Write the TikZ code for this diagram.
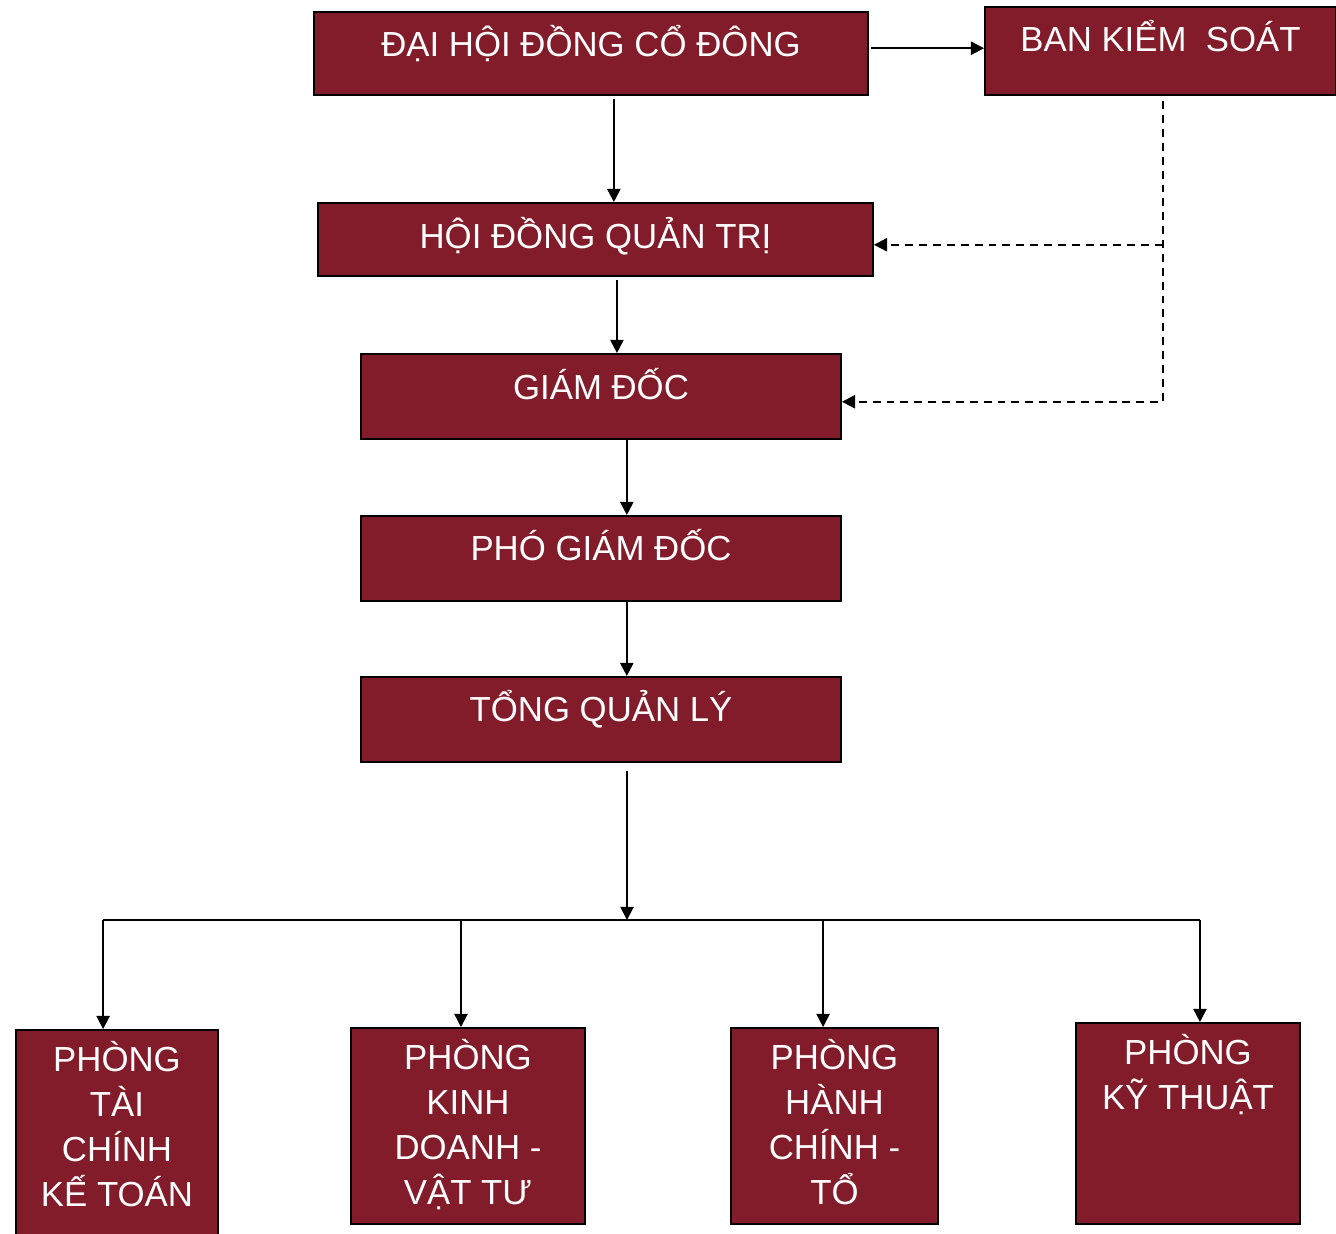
\documentclass[tikz,border=0pt]{standalone}
\usepackage{fontspec}
\setmainfont{Liberation Sans}
\usetikzlibrary{arrows.meta}
\definecolor{boxred}{HTML}{821C2A}

\begin{document}
\begin{tikzpicture}[x=0.02cm, y=0.02cm,
  unit/.style={draw=black, line width=1.1pt, fill=boxred, inner sep=0pt},
  ttl/.style={anchor=north, inner sep=0pt, text=white, align=center,
    font=\fontsize{19.8}{25.5}\selectfont},
  arr/.style={line width=1.1pt, -{Triangle[length=7.5pt,width=7.5pt]}},
  darr/.style={arr, dash pattern=on 4.5pt off 3.4pt}]

  \useasboundingbox (0,0) rectangle (1336,-1234);

  % Define nodes
  \node[unit, minimum width=11.08cm, minimum height=1.66cm,
    label={[ttl,yshift=-8pt]north:ĐẠI HỘI ĐỒNG CỔ ĐÔNG}] (dhcd) at (591,-53.5) {};
  \node[unit, minimum width=7.02cm, minimum height=1.76cm,
    label={[ttl,yshift=-8pt]north:BAN KIỂM\ \ SOÁT}] (bks) at (1160.5,-51) {};
  \node[unit, minimum width=11.1cm, minimum height=1.46cm,
    label={[ttl,yshift=-8.5pt]north:HỘI ĐỒNG QUẢN TRỊ}] (hdqt) at (595.5,-239.5) {};
  \node[unit, minimum width=9.6cm, minimum height=1.7cm,
    label={[ttl,yshift=-8.5pt]north:GIÁM ĐỐC}] (gd) at (601,-396.5) {};
  \node[unit, minimum width=9.6cm, minimum height=1.7cm,
    label={[ttl,yshift=-8pt]north:PHÓ GIÁM ĐỐC}] (pgd) at (601,-558.5) {};
  \node[unit, minimum width=9.6cm, minimum height=1.7cm,
    label={[ttl,yshift=-8pt]north:TỔNG QUẢN LÝ}] (tql) at (601,-719.5) {};

  \node[unit, minimum width=4.04cm, minimum height=4.2cm,
    label={[ttl,yshift=-7pt]north:PHÒNG\\TÀI\\CHÍNH\\KẾ TOÁN}] (ptc) at (117,-1135) {};
  \node[unit, minimum width=4.68cm, minimum height=3.92cm,
    label={[ttl,yshift=-7pt]north:PHÒNG\\KINH\\DOANH -\\VẬT TƯ}] (pkd) at (468,-1126) {};
  \node[unit, minimum width=4.14cm, minimum height=3.92cm,
    label={[ttl,yshift=-7pt]north:PHÒNG\\HÀNH\\CHÍNH -\\TỔ}] (phc) at (834.5,-1126) {};
  \node[unit, minimum width=4.48cm, minimum height=4.02cm,
    label={[ttl,yshift=-7pt]north:PHÒNG\\KỸ THUẬT}] (pkt) at (1188,-1123.5) {};

  \coordinate (bus) at (627,-920);

  % Connect the nodes
  \draw[arr, shorten <=1pt] ([yshift=3pt]dhcd.east) -- ([yshift=3pt]dhcd.east -| bks.west);
  \draw[arr, shorten <=2pt] ([xshift=13pt]dhcd.south) -- ([xshift=13pt]dhcd.south |- hdqt.north);
  \draw[arr, shorten <=2pt] ([xshift=12.2pt]hdqt.south) -- ([xshift=12.2pt]hdqt.south |- gd.north);
  \draw[arr] ([xshift=14.7pt]gd.south) -- ([xshift=14.7pt]gd.south |- pgd.north);
  \draw[arr] ([xshift=14.7pt]pgd.south) -- ([xshift=14.7pt]pgd.south |- tql.north);
  \draw[arr, shorten <=4.5pt] (tql.south -| bus) -- (bus);

  \draw[line width=1.1pt] ([xshift=-7.9pt]ptc.north |- bus) -- ([xshift=6.8pt]pkt.north |- bus);
  \draw[arr] ([xshift=-7.9pt]ptc.north |- bus) -- ([xshift=-7.9pt]ptc.north);
  \draw[arr] ([xshift=-4pt]pkd.north |- bus) -- ([xshift=-4pt]pkd.north);
  \draw[arr] ([xshift=-6.5pt]phc.north |- bus) -- ([xshift=-6.5pt]phc.north);
  \draw[arr] ([xshift=6.8pt]pkt.north |- bus) -- ([xshift=6.8pt]pkt.north);

  % control lines
  \coordinate (kc) at ([yshift=-3pt]hdqt.east);
  \draw[darr, shorten <=3pt] ([xshift=1.4pt]bks.south) |- ([yshift=-3pt]gd.east);
  \draw[darr] ([xshift=1.4pt]bks.south |- kc) -- (kc);

\end{tikzpicture}
\end{document}
